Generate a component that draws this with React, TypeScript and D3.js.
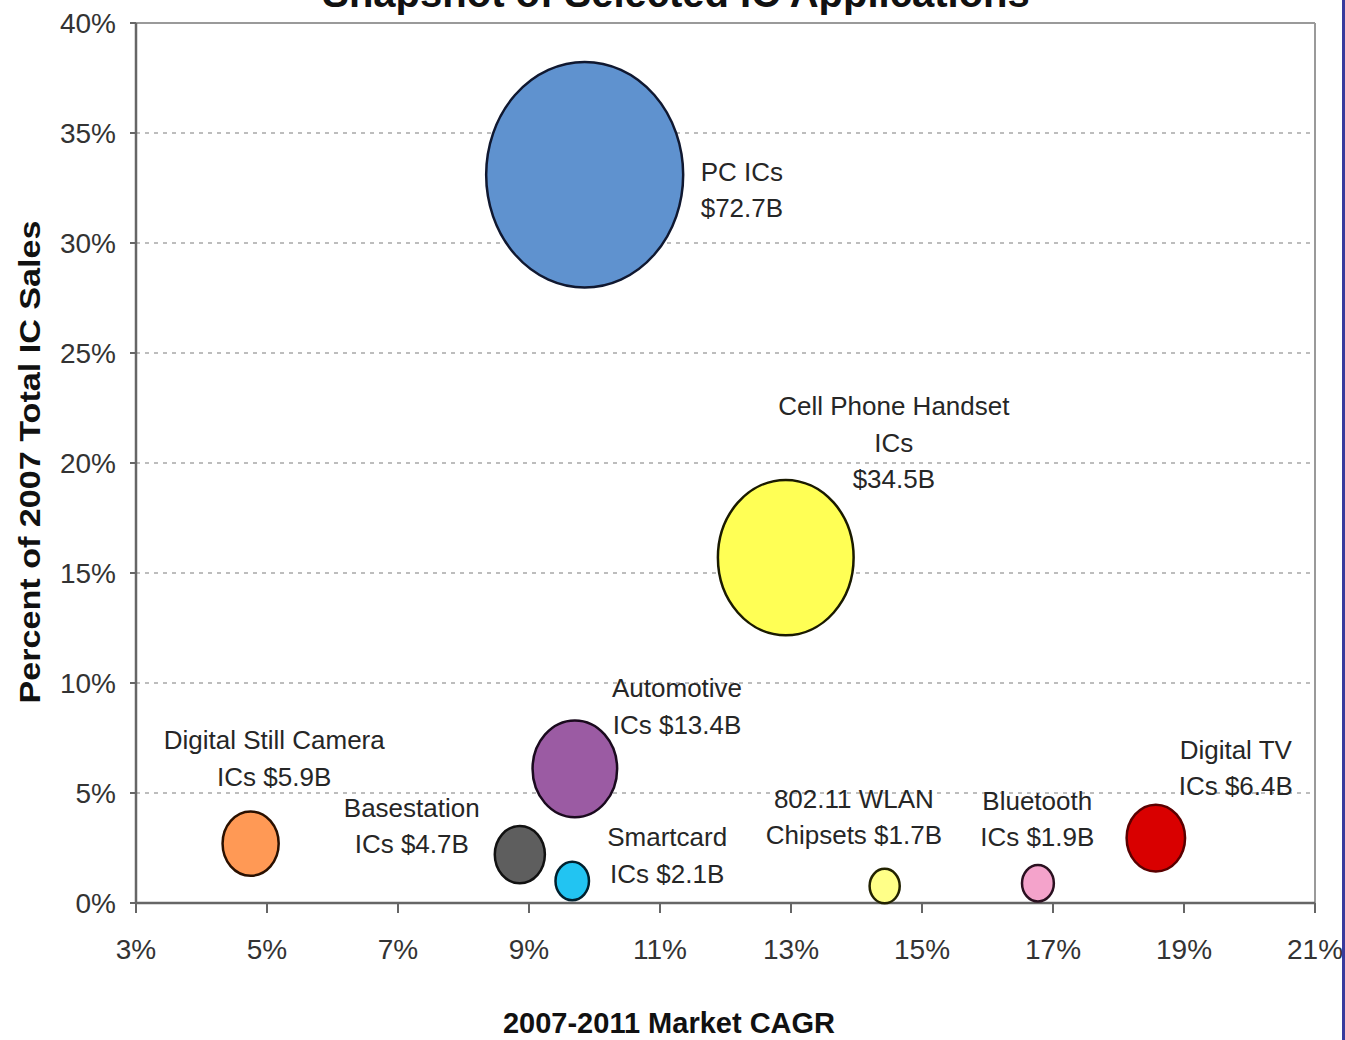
import React from "react";
import * as d3 from "d3";

// IC application segments: 2007-2011 CAGR (%), share of 2007 total IC sales (%), 2007 sales ($B)
const applications = [
  "PC ICs",
  "Cell Phone Handset ICs",
  "Automotive ICs",
  "Digital Still Camera ICs",
  "Basestation ICs",
  "Smartcard ICs",
  "802.11 WLAN Chipsets",
  "Bluetooth ICs",
  "Digital TV ICs",
];
const cagr = [9.85, 12.92, 9.7, 4.75, 8.86, 9.66, 14.43, 16.77, 18.57];
const share = [33.1, 15.7, 6.1, 2.7, 2.2, 1.0, 0.77, 0.9, 2.95];
const salesB = [72.7, 34.5, 13.4, 5.9, 4.7, 2.1, 1.7, 1.9, 6.4];

// Bubble label lines
const labelLines = [
  ["PC ICs", "$72.7B"],
  ["Cell Phone Handset", "ICs", "$34.5B"],
  ["Automotive", "ICs $13.4B"],
  ["Digital Still Camera", "ICs $5.9B"],
  ["Basestation", "ICs $4.7B"],
  ["Smartcard", "ICs $2.1B"],
  ["802.11 WLAN", "Chipsets $1.7B"],
  ["Bluetooth", "ICs $1.9B"],
  ["Digital TV", "ICs $6.4B"],
];
// Label anchors in data units (CAGR %, share %) for the first line's baseline
const labelAtCagr = [12.25, 14.57, 11.26, 5.11, 7.21, 11.11, 13.96, 16.76, 19.79];
const labelAtShare = [32.82, 22.18, 9.36, 7.0, 3.91, 2.59, 4.32, 4.23, 6.55];

const xTicks = [3, 5, 7, 9, 11, 13, 15, 17, 19, 21];
const yTicks = [0, 5, 10, 15, 20, 25, 30, 35, 40];

const fills = ["#5f92cf", "#ffff55", "#9b5ba3", "#ff9955", "#5e5e5e", "#22c4f2", "#ffff88", "#f4a3cb", "#d90000"];
const strokes = ["#101830", "#1a1a00", "#1a0a1e", "#2a1000", "#111111", "#00202e", "#222200", "#2a1020", "#5a0000"];

const W = 1345;
const H = 1040;
const plot = { left: 136, right: 1315, top: 23, bottom: 903 };
const font = "'Liberation Sans', Arial, Helvetica, sans-serif";

export default function App() {
  const x = d3.scaleLinear().domain([3, 21]).range([plot.left, plot.right]);
  const y = d3.scaleLinear().domain([0, 40]).range([plot.bottom, plot.top]);
  const r = d3.scaleSqrt().domain([0, 72.7]).range([0, 98.5]);
  const aspect = 1.145;
  const lineH = 36.5;

  return (
    <svg
      width={W}
      height={H}
      style={{ position: "absolute", left: 0, top: 0, background: "#fff" }}
      fontFamily={font}
    >
      <rect x={0} y={0} width={W} height={H} fill="#fff" />

      {/* title, running above the top of the frame */}
      <text x={676} y={7} textAnchor="middle" fontSize={40} fontWeight="bold" fill="#111">
        Snapshot of Selected IC Applications
      </text>

      {/* dashed gridlines */}
      {yTicks
        .filter((t) => t > 0 && t < 40)
        .map((t) => (
          <line
            key={"g" + t}
            x1={plot.left}
            x2={plot.right}
            y1={y(t)}
            y2={y(t)}
            stroke="#a8a8a8"
            strokeWidth={1.5}
            strokeDasharray="4 5"
          />
        ))}

      {/* frame */}
      <line x1={plot.left} x2={plot.right} y1={plot.top} y2={plot.top} stroke="#9a9a9a" strokeWidth={2} />
      <line x1={plot.right} x2={plot.right} y1={plot.top} y2={plot.bottom} stroke="#9a9a9a" strokeWidth={2} />
      <line x1={plot.left} x2={plot.left} y1={plot.top} y2={plot.bottom} stroke="#666" strokeWidth={2.5} />
      <line x1={plot.left} x2={plot.right} y1={plot.bottom} y2={plot.bottom} stroke="#666" strokeWidth={2.5} />

      {/* y axis ticks and labels */}
      {yTicks.map((t) => (
        <g key={"y" + t}>
          <line x1={plot.left - 6} x2={plot.left} y1={y(t)} y2={y(t)} stroke="#666" strokeWidth={2} />
          <text x={116} y={y(t) + 10} textAnchor="end" fontSize={28} fill="#333">
            {t}%
          </text>
        </g>
      ))}

      {/* x axis ticks and labels */}
      {xTicks.map((t) => (
        <g key={"x" + t}>
          <line x1={x(t)} x2={x(t)} y1={plot.bottom} y2={plot.bottom + 10} stroke="#666" strokeWidth={2} />
          <text x={x(t)} y={plot.bottom + 56} textAnchor="middle" fontSize={28} fill="#333">
            {t}%
          </text>
        </g>
      ))}

      {/* axis titles */}
      <text x={669} y={1033} textAnchor="middle" fontSize={29} fontWeight="bold" fill="#111">
        2007-2011 Market CAGR
      </text>
      <text
        transform="translate(40,462) rotate(-90)"
        textAnchor="middle"
        fontSize={30}
        fontWeight="bold"
        fill="#111"
        textLength={483}
        lengthAdjust="spacingAndGlyphs"
      >
        Percent of 2007 Total IC Sales
      </text>

      {/* bubbles: area proportional to sales */}
      {applications.map((name, i) => (
        <ellipse
          key={name}
          cx={x(cagr[i])}
          cy={y(share[i])}
          rx={r(salesB[i])}
          ry={r(salesB[i]) * aspect}
          fill={fills[i]}
          stroke={strokes[i]}
          strokeWidth={2.5}
        />
      ))}

      {/* bubble labels */}
      {applications.map((name, i) => (
        <text key={"l" + name} textAnchor="middle" fontSize={26} fill="#262626">
          {labelLines[i].map((ln, j) => (
            <tspan key={j} x={x(labelAtCagr[i])} y={y(labelAtShare[i]) + j * lineH}>
              {ln}
            </tspan>
          ))}
        </text>
      ))}

      {/* right edge rule */}
      <line x1={1343.5} x2={1343.5} y1={0} y2={H} stroke="#3a3a9c" strokeWidth={3} />
    </svg>
  );
}
